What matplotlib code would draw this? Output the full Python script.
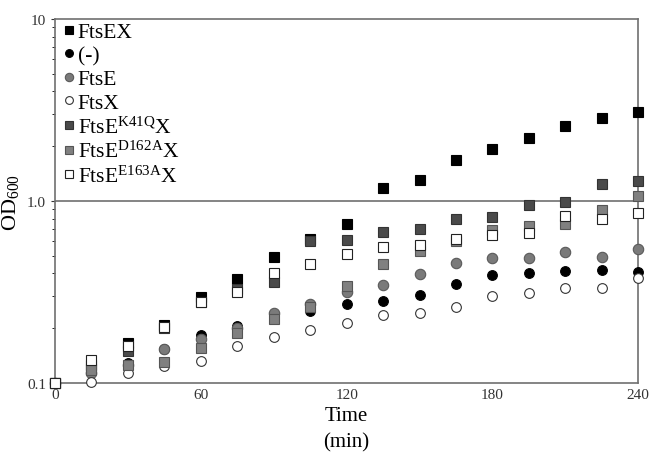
import matplotlib
matplotlib.use("Agg")
import matplotlib.pyplot as plt
from matplotlib.ticker import FixedLocator, NullFormatter

plt.rcParams["font.family"] = ["Liberation Serif", "DejaVu Serif"]
plt.rcParams["mathtext.fontset"] = "custom"
plt.rcParams["mathtext.rm"] = "Liberation Serif"
plt.rcParams["mathtext.it"] = "Liberation Serif"

time = [0, 15, 30, 45, 60, 75, 90, 105, 120, 135, 150, 165, 180, 195, 210, 225, 240]

fts_ex = [0.1, 0.126, 0.166, 0.208, 0.297, 0.373, 0.492, 0.618, 0.748, 1.18, 1.30,
          1.68, 1.93, 2.22, 2.58, 2.86, 3.08]
neg = [0.1, 0.118, 0.129, 0.154, 0.184, 0.206, 0.237, 0.249, 0.272, 0.282, 0.305,
       0.350, 0.392, 0.402, 0.413, 0.418, 0.407]
fts_e = [0.1, 0.114, 0.126, 0.154, 0.174, 0.200, 0.242, 0.272, 0.316, 0.345, 0.397,
         0.456, 0.486, 0.486, 0.525, 0.493, 0.545]
fts_x = [0.1, 0.101, 0.114, 0.124, 0.132, 0.160, 0.179, 0.196, 0.214, 0.236, 0.242,
         0.262, 0.301, 0.312, 0.332, 0.332, 0.377]
k41q = [0.1, 0.120, 0.150, 0.200, 0.280, 0.330, 0.359, 0.600, 0.610, 0.676, 0.700,
        0.800, 0.820, 0.950, 0.990, 1.24, 1.29]
d162a = [0.1, 0.118, 0.125, 0.131, 0.156, 0.188, 0.225, 0.260, 0.340, 0.450, 0.530,
         0.600, 0.690, 0.730, 0.750, 0.890, 1.07]
e163a = [0.1, 0.134, 0.160, 0.203, 0.279, 0.316, 0.400, 0.450, 0.510, 0.560, 0.570,
         0.620, 0.650, 0.670, 0.830, 0.800, 0.860]

labels = ["FtsEX", "(-)", "FtsE", "FtsX",
          "FtsE$^{\\mathrm{K41Q}}$X", "FtsE$^{\\mathrm{D162A}}$X", "FtsE$^{\\mathrm{E163A}}$X"]

fig = plt.figure(figsize=(6.54, 4.56), dpi=100)
ax = fig.add_axes([0.084, 0.158, 0.892, 0.798])

ax.axhline(1.0, color="#707070", lw=1.2, zorder=1)

series = [
    (fts_ex, "s", "black", "black", 7.5),
    (neg, "o", "black", "black", 7),
    (fts_e, "o", "#7a7a7a", "#5a5a5a", 7.5),
    (fts_x, "o", "white", "#333333", 7),
    (k41q, "s", "#4a4a4a", "#333333", 7.5),
    (d162a, "s", "#808080", "#555555", 7.5),
    (e163a, "s", "white", "#222222", 7.5),
]
for (vals, mk, fc, ec, ms), lab in zip(series, labels):
    ax.plot(time, vals, ls="none", marker=mk, mfc=fc, mec=ec, ms=ms, mew=0.8,
            label=lab, zorder=3, clip_on=False)

ax.set_yscale("log")
ax.set_ylim(0.1, 10)
ax.set_xlim(0, 240)
ax.set_xticks([0, 60, 120, 180, 240])
ax.yaxis.set_major_locator(FixedLocator([0.1, 1.0, 10]))
ax.set_yticklabels(["0.1", "1.0", "10"])
ax.yaxis.set_minor_formatter(NullFormatter())
ax.tick_params(labelsize=11, colors="#333333", length=3)
ax.tick_params(axis="y", which="minor", length=2)
ax.tick_params(axis="x", length=0)
for sp in ax.spines.values():
    sp.set_color("#707070")
    sp.set_linewidth(1.2)

ax.set_xlabel("Time\n(min)", fontsize=15, linespacing=1.5)
ax.set_ylabel("OD$_{\\mathrm{600}}$", fontsize=16)

leg = ax.legend(loc="upper left", frameon=False, fontsize=15.5, handletextpad=-0.1,
                labelspacing=0.16, borderpad=0.1, borderaxespad=0.05,
                handlelength=1.0, markerscale=0.8)

fig.savefig("out.png", dpi=100)
